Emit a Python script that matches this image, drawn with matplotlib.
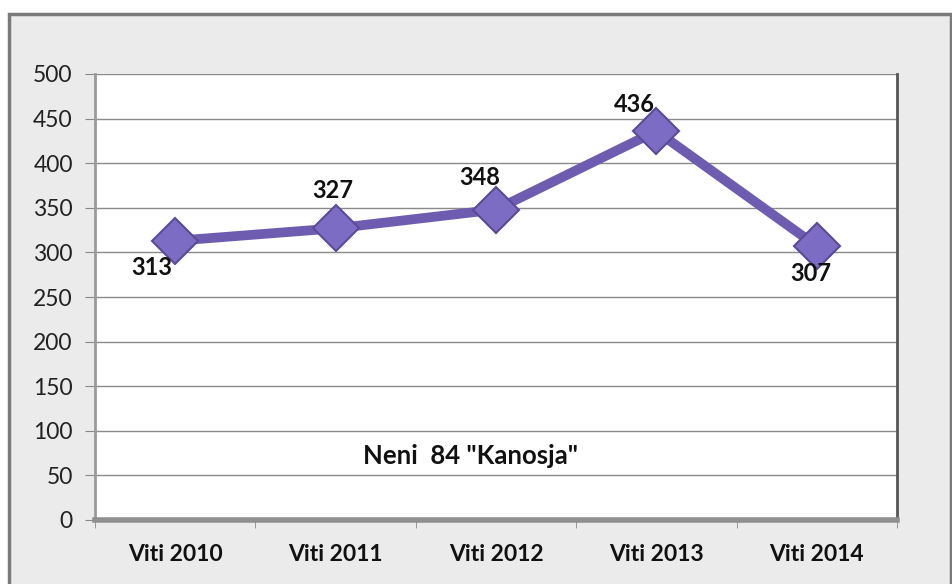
import matplotlib
matplotlib.use("Agg")
import matplotlib.pyplot as plt
from matplotlib.patches import Rectangle

years = ["Viti 2010", "Viti 2011", "Viti 2012", "Viti 2013", "Viti 2014"]
counts = [313, 327, 348, 436, 307]
yticks = [0, 50, 100, 150, 200, 250, 300, 350, 400, 450, 500]
note = 'Neni  84 "Kanosja"'

LINE = "#6d5cb0"
FONT = ["Lato", "DejaVu Sans"]
plt.rcParams["font.family"] = FONT

fig = plt.figure(figsize=(9.52, 5.84), dpi=100)
fig.patch.set_facecolor("white")
# outer grey chart panel
bg = fig.add_axes([0, 0, 1, 1], zorder=-5)
bg.set_axis_off()
bg.set_xlim(0, 952)
bg.set_ylim(584, 0)
bg.add_patch(Rectangle((9, 14), 942, 572, facecolor="#ebebeb", edgecolor="#7a7a7a", lw=2.5))

ax = fig.add_axes([95 / 952, 1 - 520 / 584, 802 / 952, 446 / 584])
ax.set_facecolor("white")
x = list(range(len(years)))
ax.plot(x, counts, color=LINE, lw=7, marker="D", ms=23, mfc="#7d6cc4", mec="#5a4a98",
        mew=1.5, solid_joinstyle="round", zorder=3)

# data labels: offsets in points
offsets = [(-17, -19), (-2, 27), (-12, 23), (-16, 19), (-4, -20)]
for xi, v, (dx, dy) in zip(x, counts, offsets):
    ax.annotate(str(v), (xi, v), xytext=(dx, dy), textcoords="offset points",
                ha="center", va="center", fontsize=17, fontweight="bold", color="#111111")

ax.text(1.84, 72, note, ha="center", va="center", fontsize=18.5, fontweight="bold", color="#111111")

ax.set_xlim(-0.5, len(years) - 0.5)
ax.set_ylim(0, 500)
ax.set_yticks(yticks)
ax.set_yticklabels([str(t) for t in yticks], fontsize=16.5, color="#222222")
ax.set_xticks(x)
ax.set_xticklabels(years, fontsize=16.5, fontweight="bold", color="#111111")
ax.set_xticks([i - 0.5 for i in range(len(years) + 1)], minor=True)
ax.tick_params(axis="x", which="major", length=0, pad=17)
ax.tick_params(axis="x", which="minor", length=6, color="#888888", direction="out")
ax.tick_params(axis="y", length=7, color="#888888", pad=9)
ax.grid(axis="y", color="#8a8a8a", lw=1)
ax.set_axisbelow(True)
ax.spines["top"].set_visible(False)
ax.spines["left"].set_color("#9a9a9a")
ax.spines["left"].set_linewidth(2)
ax.spines["bottom"].set_color("#8f8f8f")
ax.spines["bottom"].set_linewidth(4)
ax.spines["right"].set_color("#555555")
ax.spines["right"].set_linewidth(2)

fig.savefig("out.png", dpi=100)
